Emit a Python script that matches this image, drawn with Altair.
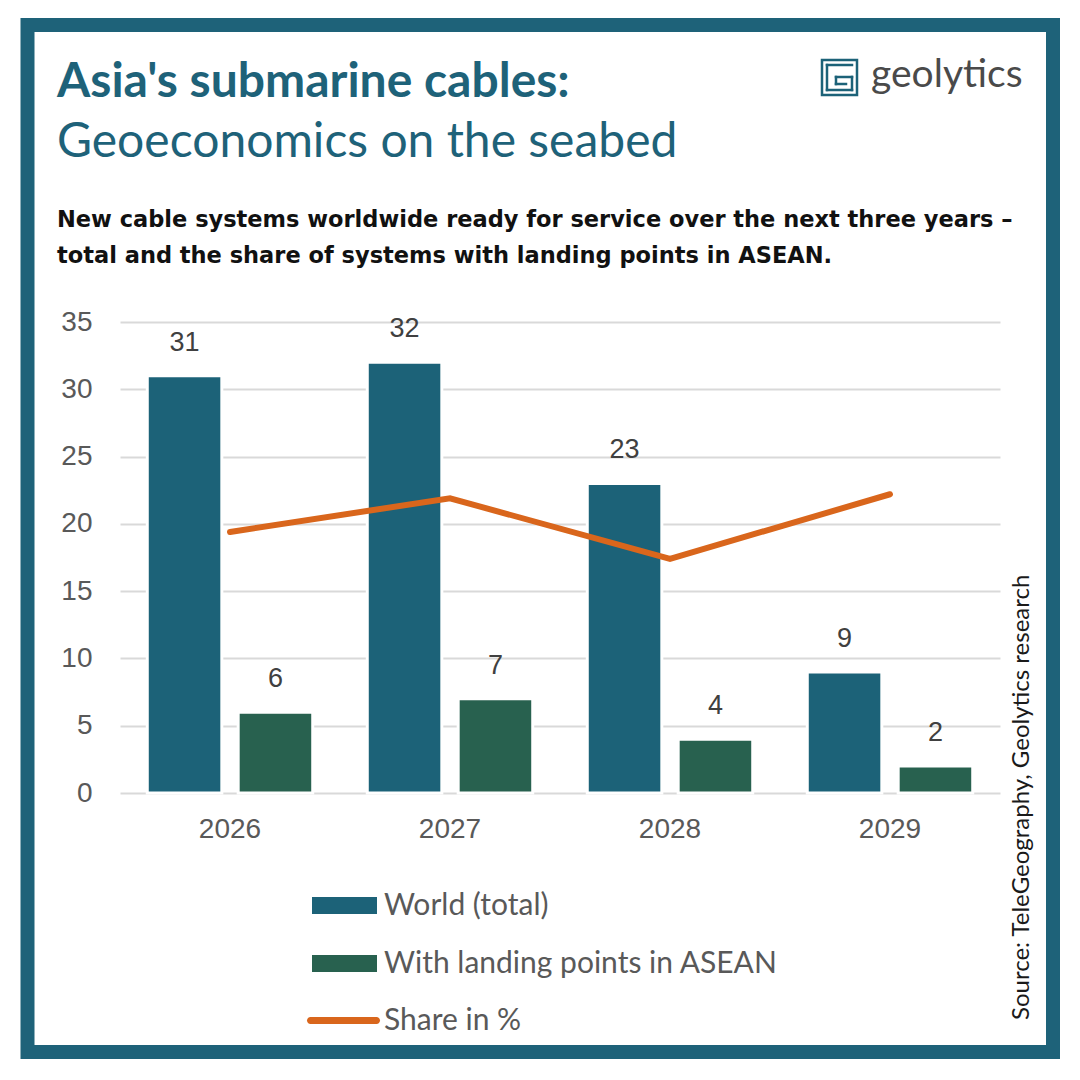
import altair as alt
import pandas as pd

# ---- data ----
years = ["2026", "2027", "2028", "2029"]
world_total = [31, 32, 23, 9]
asean_total = [6, 7, 4, 2]
share_pct = [19.4, 21.9, 17.4, 22.2]
bar_series = ["World (total)", "With landing points in ASEAN"]
line_series = "Share in %"
y_ticks = [0, 5, 10, 15, 20, 25, 30, 35]

title_txt = "Asia's submarine cables:"
subtitle_txt = "Geoeconomics on the seabed"
desc_lines = [
    "New cable systems worldwide ready for service over the next three years \u2013",
    "total and the share of systems with landing points in ASEAN.",
]
source_txt = "Source: TeleGeography, Geolytics research"
brand_txt = "geolytics"

# ---- style ----
TEAL = "#1c6278"
GREEN = "#28614f"
ORANGE = "#d9661c"
FRAME = "#1e6279"
GRID = "#d9d9d9"
AXIS_TXT = "#595959"
VAL_TXT = "#404040"
FONT = "Lato"
NUM_FONT = "Liberation Sans"
DESC_FONT = "DejaVu Sans"

W, H = 880, 471
L, T = 120, 322

bars_df = pd.DataFrame({
    "year": years * 2,
    "series": [bar_series[0]] * len(years) + [bar_series[1]] * len(years),
    "value": world_total + asean_total,
})
line_df = pd.DataFrame({"year": years, "share": share_pct, "series": [line_series] * len(years)})

x_scale = alt.Scale(domain=years, paddingInner=0, paddingOuter=0)
x_axis = alt.Axis(title=None, labelAngle=0, domain=False, ticks=False, grid=False,
                  labelFont=NUM_FONT, labelFontSize=28, labelColor=AXIS_TXT, labelPadding=22)
y_scale = alt.Scale(domain=[0, 35], nice=False)
y_axis = alt.Axis(title=None, values=y_ticks, domain=False, ticks=False, grid=True,
                  gridColor=GRID, gridWidth=2, labelFont=NUM_FONT, labelFontSize=28,
                  labelColor=AXIS_TXT, labelPadding=28)
xoff = alt.XOffset("series:N", scale=alt.Scale(domain=bar_series, paddingInner=0.18, paddingOuter=0.3))

bars = alt.Chart(bars_df).mark_bar(stroke="white", strokeWidth=3).encode(
    x=alt.X("year:N", scale=x_scale, axis=x_axis),
    xOffset=xoff,
    y=alt.Y("value:Q", scale=y_scale, axis=y_axis),
    color=alt.Color("series:N", scale=alt.Scale(domain=bar_series, range=[TEAL, GREEN]),
                    legend=alt.Legend(title=None, orient="none", legendX=192, legendY=551,
                                      direction="vertical",
                                      symbolType="M-1,-0.26H1V0.26H-1Z", symbolSize=4225,
                                      symbolStrokeWidth=0, labelFont=FONT, labelFontSize=30,
                                      labelColor=AXIS_TXT, labelOffset=7, rowPadding=10,
                                      labelLimit=0)),
)

values = alt.Chart(bars_df).mark_text(dy=-33, fontSize=27, font=NUM_FONT, color=VAL_TXT,
                                      baseline="middle").encode(
    x=alt.X("year:N", scale=x_scale),
    xOffset=xoff,
    y=alt.Y("value:Q", scale=y_scale),
    text="value:Q",
)

capsule = ("M-0.904,-0.096H0.904A0.096,0.096 0 0 1 0.904,0.096"
           "H-0.904A0.096,0.096 0 0 1 -0.904,-0.096Z")

line = alt.Chart(line_df).mark_line(strokeWidth=6, strokeCap="round").encode(
    x=alt.X("year:N", scale=x_scale),
    y=alt.Y("share:Q", scale=y_scale),
    stroke=alt.Stroke("series:N", scale=alt.Scale(domain=[line_series], range=[ORANGE]),
                      legend=alt.Legend(title=None, orient="none", legendX=187, legendY=662,
                                        symbolType=capsule, symbolSize=5329,
                                        symbolFillColor=ORANGE, symbolStrokeWidth=0,
                                        labelFont=FONT, labelFontSize=30,
                                        labelColor=AXIS_TXT, labelOffset=4, labelLimit=0)),
)


def text_at(txt, x, y, **kw):
    return alt.Chart(pd.DataFrame({"t": [txt]})).mark_text(**kw).encode(
        x=alt.value(x - L), y=alt.value(y - T), text="t:N")


def rule_at(x1, y1, x2, y2, color=TEAL, width=2.5):
    return alt.Chart(pd.DataFrame({"k": [0]})).mark_rule(color=color, strokeWidth=width,
                                                         strokeCap="square").encode(
        x=alt.value(x1 - L), x2=alt.value(x2 - L), y=alt.value(y1 - T), y2=alt.value(y2 - T))


frame = alt.Chart(pd.DataFrame({"k": [0]})).mark_rect(
    fill="white", fillOpacity=0, stroke=FRAME, strokeWidth=14).encode(
    x=alt.value(27.5 - L), x2=alt.value(1053 - L), y=alt.value(25 - T), y2=alt.value(1052 - T))

title = text_at(title_txt, 57, 97, align="left", baseline="alphabetic", font=FONT,
                fontWeight="bold", fontSize=48, color=FRAME)
subtitle = text_at(subtitle_txt, 57, 157, align="left", baseline="alphabetic", font=FONT,
                   fontSize=48, color=FRAME)
desc1 = text_at(desc_lines[0], 57, 227, align="left", baseline="alphabetic", font=DESC_FONT,
                fontWeight="bold", fontSize=22.5, color="#111111")
desc2 = text_at(desc_lines[1], 57, 263, align="left", baseline="alphabetic", font=DESC_FONT,
                fontWeight="bold", fontSize=22.5, color="#111111")
source = text_at(source_txt, 1022, 1020, align="left", baseline="middle", angle=270,
                 font=FONT, fontSize=24, color="#1a1a1a")
brand = text_at(brand_txt, 871, 87, align="left", baseline="alphabetic", font=FONT,
                fontSize=39, color="#4a4a4a")

logo = [
    alt.Chart(pd.DataFrame({"k": [0]})).mark_rect(fill="white", fillOpacity=0, stroke=TEAL,
                                                  strokeWidth=2.5).encode(
        x=alt.value(822 - L), x2=alt.value(857 - L), y=alt.value(60 - T), y2=alt.value(95 - T)),
    rule_at(852, 65, 827, 65),
    rule_at(827, 65, 827, 90),
    rule_at(827, 90, 852, 90),
    rule_at(852, 90, 852, 77),
    rule_at(852, 77, 836, 77),
    rule_at(836, 77, 836, 84),
    rule_at(836, 84, 846, 84),
]

chart = alt.layer(
    frame, bars, values, line, title, subtitle, desc1, desc2, source, brand, *logo
).properties(
    width=W, height=H,
    padding={"left": L, "top": T, "right": 1080 - L - W, "bottom": 1080 - T - H},
    autosize=alt.AutoSizeParams(type="none"),
    background="white",
).configure_view(stroke=None)

chart.save("out.html", embed_options={"renderer": "svg", "actions": False})
